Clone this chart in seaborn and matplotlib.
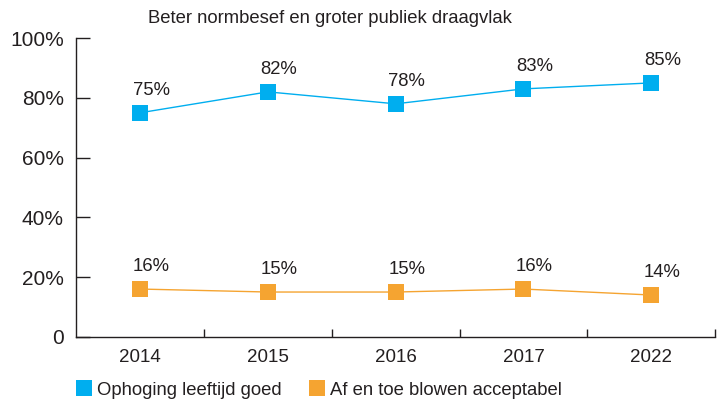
import pandas as pd
import numpy as np
import seaborn as sns
import matplotlib.pyplot as plt
from matplotlib.lines import Line2D

# data
years = ["2014", "2015", "2016", "2017", "2022"]
ophoging = [75, 82, 78, 83, 85]
blowen = [16, 15, 15, 16, 14]
series_names = ["Ophoging leeftijd goed", "Af en toe blowen acceptabel"]
colors = ["#00AEEF", "#F5A431"]

df = pd.DataFrame({
    "jaar": years * 2,
    "pos": list(range(len(years))) * 2,
    "waarde": ophoging + blowen,
    "reeks": [series_names[0]] * len(years) + [series_names[1]] * len(years),
})

sns.set_style("ticks")
plt.rcParams['font.family'] = ['Liberation Sans', 'DejaVu Sans']

fig = plt.figure(figsize=(7.26, 4.01), dpi=100)
ax = fig.add_axes([0.105, 0.16, 0.88, 0.745])

sns.lineplot(data=df, x="pos", y="waarde", hue="reeks", palette=colors,
             marker="s", markersize=12, markeredgewidth=0, linewidth=1,
             legend=False, ax=ax)

# value labels
for vals in [ophoging, blowen]:
    for i, v in enumerate(vals):
        ax.annotate(f"{v}%", (i, v), xytext=(8, 10), textcoords="offset points",
                    ha="center", va="bottom", fontsize=13.3, color="#231f20")

ax.set_xlim(-0.5, len(years) - 0.5)
ax.set_ylim(0, 100)
ax.set_xticks(range(len(years)))
ax.set_xticklabels(years)
ax.set_xticks(np.arange(0.5, len(years), 1), minor=True)
ax.tick_params(axis="x", which="major", length=0, pad=9, labelsize=13.5, labelcolor="#231f20")
ax.tick_params(axis="x", which="minor", direction="in", length=6, width=1, color="#231f20")
ax.set_yticks([0, 20, 40, 60, 80, 100])
ax.set_yticklabels(["0", "20%", "40%", "60%", "80%", "100%"])
ax.tick_params(axis="y", direction="in", length=10, width=1, pad=9, labelsize=15,
               labelcolor="#231f20", color="#231f20")
ax.set_xlabel("")
ax.set_ylabel("")
for s in ["top", "right"]:
    ax.spines[s].set_visible(False)
for s in ["left", "bottom"]:
    ax.spines[s].set_color("#231f20")
    ax.spines[s].set_linewidth(1)

fig.text(0.454, 0.954, "Beter normbesef en groter publiek draagvlak", ha="center",
         va="center", fontsize=13.3, color="#231f20")

handles = [Line2D([], [], marker="s", linestyle="none", markersize=11, color=c,
                  markeredgewidth=0) for c in colors]
fig.legend(handles, series_names, loc="center left", bbox_to_anchor=(0.078, 0.027),
           ncol=2, frameon=False, fontsize=13.3, handletextpad=0.1, columnspacing=1.3,
           handlelength=1.2, labelcolor="#231f20")

fig.savefig("out.png", dpi=100)
